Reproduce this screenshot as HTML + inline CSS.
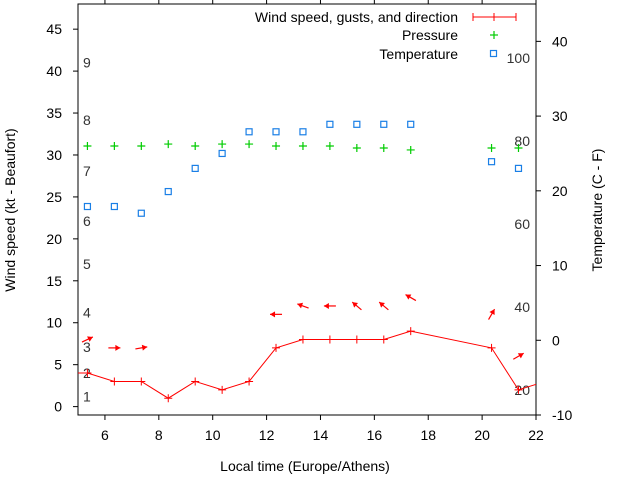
<!DOCTYPE html>
<html><head><meta charset="utf-8"><style>
body{margin:0;background:#fff}
svg{display:block;font-family:"Liberation Sans",sans-serif}
</style></head><body>
<svg id="chart" width="640" height="480" viewBox="0 0 640 480" xmlns="http://www.w3.org/2000/svg">
<g id="axes"></g>
<g id="labels"></g>
<g id="series"></g>
<g id="legend">
 <text x="458" y="22" text-anchor="end" font-size="14" fill="#000">Wind speed, gusts, and direction</text>
 <text x="458" y="40" text-anchor="end" font-size="14" fill="#000">Pressure</text>
 <text x="458" y="59" text-anchor="end" font-size="14" fill="#000">Temperature</text>
 <g stroke="#f00" stroke-width="1">
  <line x1="473" y1="17" x2="516" y2="17"/><line x1="473" y1="13" x2="473" y2="21"/><line x1="494" y1="13" x2="494" y2="21"/><line x1="516" y1="13" x2="516" y2="21"/>
 </g>
 <g stroke="#0c0" stroke-width="1.2"><line x1="490" y1="35" x2="498" y2="35"/><line x1="494" y1="31" x2="494" y2="39"/></g>
 <rect x="490.5" y="50.5" width="6" height="6" fill="none" stroke="#1a7fe6" stroke-width="1.2"/>
</g>
<text x="15" y="210" transform="rotate(-90 15 210)" text-anchor="middle" font-size="14">Wind speed (kt - Beaufort)</text>
<text x="602" y="210" transform="rotate(-90 602 210)" text-anchor="middle" font-size="14">Temperature (C - F)</text>
<text x="305" y="471" text-anchor="middle" font-size="14">Local time (Europe/Athens)</text>
</svg>
<script>
const times = [4.35,5.35,6.35,7.35,8.35,9.35,10.35,11.35,12.35,13.35,14.35,15.35,16.35,17.35,20.35,21.35,22.35];
const windSpeed = [4,4,3,3,1,3,2,3,7,8,8,8,8,9,7,2,3];
const arrowIdx = [1,2,3,8,9,10,11,12,13,14,15];
const gust = [8,7,7,11,12,12,12,12,13,11,6];
const arrowAngle = [25,0,10,180,160,180,140,140,150,60,30];
const pressIdx = [1,2,3,4,5,6,7,8,9,10,11,12,13,14,15];
const pressure = [31.07,31.07,31.07,31.3,31.07,31.3,31.3,31.07,31.07,31.07,30.83,30.83,30.6,30.83,30.83];
const tempC = [17.9,17.9,17.0,19.9,23.0,25.0,27.9,27.9,27.9,28.9,28.9,28.9,28.9,23.9,23.0];
const xTicks = [6,8,10,12,14,16,18,20,22];
const yTicks = [0,5,10,15,20,25,30,35,40,45];
const y2Ticks = [-10,0,10,20,30,40];
const beaufort = [1,2,3,4,5,6,7,8,9];
const beaufortKt = [1.2,4,7.1,11.2,17,22.1,28.1,34.2,41];
const fahrenheit = [20,40,60,80,100];

const L=78,R=536,T=4,B=415;
const X=v=>L+(v-5)/(22-5)*(R-L);
const Y=v=>B-(v+1)/(48+1)*(B-T);
const Y2=v=>B-(v+10)/(45+10)*(B-T);
const NS="http://www.w3.org/2000/svg";
function mk(parent,tag,attrs){const e=document.createElementNS(NS,tag);for(const k in attrs)e.setAttribute(k,attrs[k]);parent.appendChild(e);return e;}
const axes=document.getElementById('axes'),labels=document.getElementById('labels'),series=document.getElementById('series');
let e=mk(axes,'rect',{x:L,y:T,width:R-L,height:B-T,fill:'none',stroke:'#000','stroke-width':1});


xTicks.forEach(v=>{
 let t=mk(axes,'line',{x1:X(v),x2:X(v),y1:B,y2:B+5,stroke:'#000'});
 
 
 let t2=mk(axes,'line',{x1:X(v),x2:X(v),y1:T,y2:T-5,stroke:'#000'});
 
 
 let l=mk(axes,'text',{x:X(v),y:B+25,'text-anchor':'middle','font-size':14});l.textContent=v;
 
 
});
yTicks.forEach(v=>{
 let t=mk(axes,'line',{x1:L-5,x2:L,y1:Y(v),y2:Y(v),stroke:'#000'});
 
 
 let l=mk(axes,'text',{x:62,y:Y(v)+5,'text-anchor':'end','font-size':14});l.textContent=v;
 
 
});
y2Ticks.forEach(v=>{
 let t=mk(axes,'line',{x1:R,x2:R+5,y1:Y2(v),y2:Y2(v),stroke:'#000'});
 
 
 let l=mk(axes,'text',{x:552,y:Y2(v)+5,'text-anchor':'start','font-size':14});l.textContent=v;
 
 
});
beaufort.forEach((b,i)=>{
 let l=mk(labels,'text',{x:83,y:Y(beaufortKt[i])+5,'font-size':14,fill:'#333'});l.textContent=b;
 
 
});
fahrenheit.forEach(f=>{
 let l=mk(labels,'text',{x:530,y:Y2((f-32)/1.8)+5,'text-anchor':'end','font-size':14,fill:'#333'});l.textContent=f;
 
 
});
mk(series,'clipPath',{id:'clip'}).appendChild(document.createElementNS(NS,'rect'));
const cr=document.querySelector('#clip rect');cr.setAttribute('x',L);cr.setAttribute('y',T);cr.setAttribute('width',R-L);cr.setAttribute('height',B-T);
const g=mk(series,'g',{'clip-path':'url(#clip)'});
let p=mk(g,'polyline',{points:times.map((t,i)=>X(t)+','+Y(windSpeed[i])).join(' '),fill:'none',stroke:'#f00','stroke-width':1});


times.forEach((t,i)=>{
 let c=mk(g,'path',{d:`M${X(t)-4},${Y(windSpeed[i])}h8M${X(t)},${Y(windSpeed[i])-4}v8`,stroke:'#f00'});
 
 
});
arrowIdx.forEach((ix,k)=>{
 const cx=X(times[ix]),cy=Y(gust[k]),a=arrowAngle[k]*Math.PI/180,dx=Math.cos(a)*6,dy=-Math.sin(a)*6;
 const hx=cx+dx,hy=cy+dy,ux=dx/6,uy=dy/6;
 const ar=mk(g,'g',{});
 
 
 mk(ar,'line',{x1:cx-dx,y1:cy-dy,x2:hx,y2:hy,stroke:'#f00','stroke-width':1.2});
 mk(ar,'polygon',{points:`${hx},${hy} ${hx-ux*5-uy*3},${hy-uy*5+ux*3} ${hx-ux*5+uy*3},${hy-uy*5-ux*3}`,fill:'#f00'});
});
pressIdx.forEach((ix,k)=>{
 const x=X(times[ix]),y=Y(pressure[k]);
 let c=mk(g,'path',{d:`M${x-4},${y}h8M${x},${y-4}v8`,stroke:'#0c0','stroke-width':1.2});
 
 
});
pressIdx.forEach((ix,k)=>{
 const x=X(times[ix]),y=Y2(tempC[k]);
 let s=mk(g,'rect',{x:x-3,y:y-3,width:6,height:6,fill:'none',stroke:'#1a7fe6','stroke-width':1.2});
 
 
});
</script>
</body></html>
